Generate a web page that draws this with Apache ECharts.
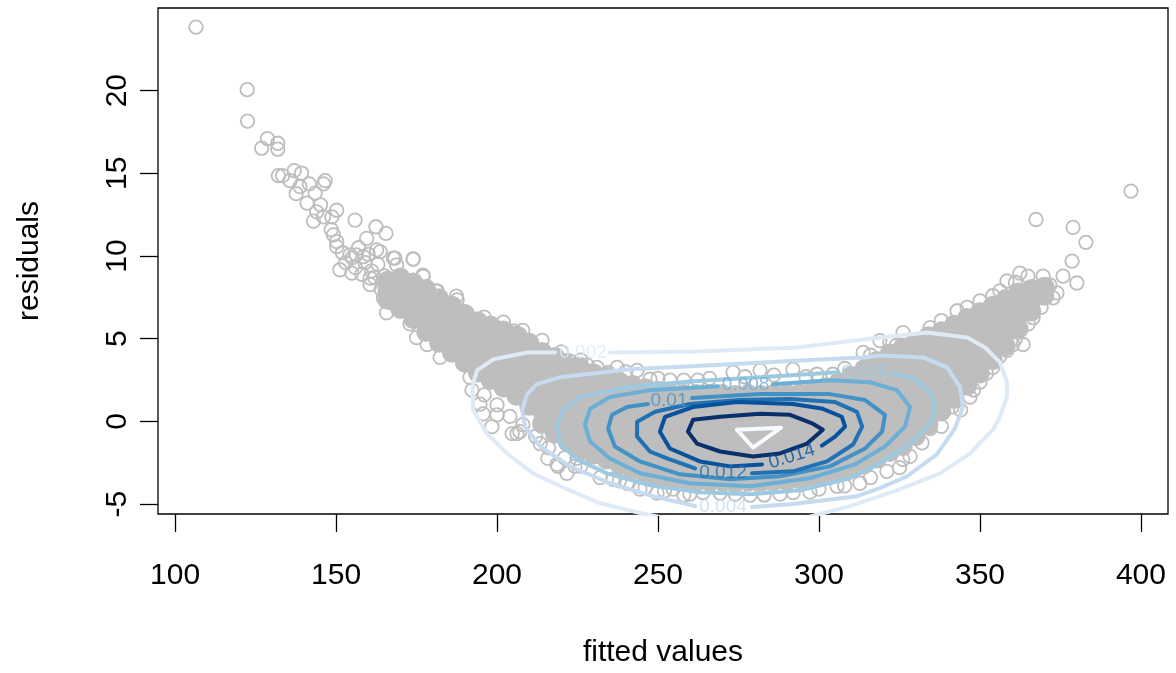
<!DOCTYPE html>
<html><head><meta charset="utf-8">
<script src="https://cdn.jsdelivr.net/npm/echarts@6.0.0/dist/echarts.min.js"></script>
<style>html,body{margin:0;padding:0;background:#fff}#chart{width:1176px;height:673px}</style>
</head><body><div id="chart"></div>
<script>
const xTicks = [100, 150, 200, 250, 300, 350, 400];
const yTicks = [-5, 0, 5, 10, 15, 20];
const levels = ['0.002', '0.004', '0.006', '0.008', '0.01', '0.012', '0.014', '0.016', '0.018'];
const levelColors = ['#DEEBF7', '#C6DBEF', '#9ECAE1', '#6BAED6', '#4292C6', '#2171B5', '#08519C', '#08306B', '#F7FBFF'];

// dense core of the point cloud: [fitted, [residuals...]]
const coreColumns = [
  [166, [8.5, 7.9, 7.35]],
  [170, [8.7, 8.0, 7.4, 6.8]],
  [174, [8.4, 7.7, 7.0, 6.2]],
  [178, [8.0, 7.3, 6.6, 6.0, 5.4]],
  [182, [7.45, 6.8, 6.1, 5.4, 4.75]],
  [186, [7.0, 6.3, 5.6, 4.9, 4.15]],
  [190, [6.5, 5.8, 5.1, 4.3, 3.55]],
  [194, [6.05, 5.35, 4.6, 3.9, 3.2, 2.95]],
  [198, [5.8, 5.1, 4.4, 3.7, 3.0, 2.5]],
  [202, [5.5, 4.8, 4.1, 3.4, 2.7, 2.05]],
  [206, [5.2, 4.5, 3.8, 3.1, 2.3, 1.55]],
  [210, [4.75, 4.1, 3.4, 2.6, 1.8, 0.95]],
  [214, [4.2, 3.5, 2.8, 2.1, 1.4, 0.6, -0.15]],
  [218, [3.9, 3.2, 2.5, 1.8, 1.1, 0.4, -0.3, -0.75]],
  [222, [3.55, 2.8, 2.1, 1.4, 0.7, 0.0, -0.6, -1.25]],
  [226, [3.2, 2.5, 1.8, 1.1, 0.4, -0.3, -1.0, -1.7]],
  [230, [2.9, 2.2, 1.5, 0.8, 0.1, -0.6, -1.3, -2.0]],
  [234, [2.7, 2.0, 1.3, 0.6, -0.1, -0.8, -1.5, -2.3]],
  [238, [2.4, 1.7, 1.0, 0.3, -0.4, -1.1, -1.9, -2.6]],
  [242, [2.2, 1.5, 0.8, 0.1, -0.6, -1.3, -2.0, -2.6, -2.9]],
  [246, [2.0, 1.3, 0.6, -0.1, -0.8, -1.5, -2.2, -2.9, -3.15]],
  [250, [1.85, 1.2, 0.5, -0.2, -0.9, -1.6, -2.3, -3.0, -3.35]],
  [254, [1.7, 1.0, 0.3, -0.4, -1.1, -1.8, -2.5, -3.1, -3.5]],
  [258, [1.65, 1.0, 0.3, -0.4, -1.1, -1.8, -2.5, -3.1, -3.6]],
  [262, [1.65, 0.95, 0.25, -0.45, -1.15, -1.85, -2.55, -3.2, -3.65]],
  [266, [1.6, 0.9, 0.2, -0.5, -1.2, -1.9, -2.6, -3.25, -3.65]],
  [270, [1.65, 0.95, 0.3, -0.4, -1.1, -1.8, -2.5, -3.2, -3.65]],
  [274, [1.6, 0.9, 0.2, -0.5, -1.2, -1.9, -2.6, -3.3, -3.7]],
  [278, [1.65, 1.0, 0.3, -0.4, -1.1, -1.8, -2.5, -3.2, -3.65]],
  [282, [1.6, 0.9, 0.2, -0.5, -1.2, -1.9, -2.6, -3.25, -3.65]],
  [286, [1.65, 0.95, 0.25, -0.45, -1.15, -1.85, -2.55, -3.2, -3.6]],
  [290, [1.65, 1.0, 0.3, -0.4, -1.1, -1.8, -2.5, -3.15, -3.6]],
  [294, [1.7, 1.0, 0.3, -0.4, -1.1, -1.8, -2.5, -3.1, -3.5]],
  [298, [1.85, 1.15, 0.45, -0.25, -0.95, -1.65, -2.35, -3.0, -3.35]],
  [302, [2.05, 1.35, 0.65, -0.05, -0.75, -1.45, -2.15, -2.8, -3.2]],
  [306, [2.35, 1.65, 0.95, 0.25, -0.45, -1.15, -1.85, -2.5, -3.0]],
  [310, [2.75, 2.05, 1.35, 0.65, -0.05, -0.75, -1.45, -2.15, -2.8]],
  [314, [3.15, 2.45, 1.75, 1.05, 0.35, -0.35, -1.05, -1.75, -2.6]],
  [318, [3.65, 2.95, 2.25, 1.55, 0.85, 0.15, -0.55, -1.25, -1.95, -2.25]],
  [322, [4.1, 3.4, 2.7, 2.0, 1.3, 0.6, -0.1, -0.8, -1.5, -1.85]],
  [326, [4.45, 3.75, 3.05, 2.35, 1.65, 0.95, 0.25, -0.45, -1.15, -1.5]],
  [330, [4.8, 4.1, 3.4, 2.7, 2.0, 1.3, 0.6, -0.1, -0.9]],
  [334, [5.15, 4.45, 3.75, 3.05, 2.35, 1.65, 0.95, 0.3, -0.2]],
  [338, [5.45, 4.75, 4.05, 3.35, 2.65, 1.95, 1.25, 0.6]],
  [342, [5.85, 5.15, 4.45, 3.75, 3.05, 2.35, 1.65, 1.35]],
  [346, [6.25, 5.55, 4.85, 4.15, 3.45, 2.75, 2.15]],
  [350, [6.6, 5.9, 5.2, 4.5, 3.75, 2.9]],
  [354, [7.0, 6.3, 5.6, 4.9, 4.2, 3.7]],
  [358, [7.4, 6.7, 6.0, 5.3, 4.55]],
  [362, [7.8, 7.1, 6.4, 5.6]],
  [366, [8.0, 7.3, 6.65]],
  [370, [8.15, 7.6]]
];

// individually visible points: [fitted, residual]
const tailPoints = [
  [106.5,23.84],[122.4,20.06],[122.5,18.16],[128.7,17.10],[131.9,16.82],[126.9,16.52],[131.9,16.46],
  [132.1,14.86],[133.4,14.86],[137.0,15.16],[139.3,15.02],[135.7,14.56],[137.6,13.77],[141.7,14.36],
  [143.5,13.81],[146.6,14.56],[146.1,14.36],[144.0,12.67],[146.1,12.37],[148.7,12.37],[150.2,12.77],
  [143.0,12.11],[149.2,11.28],[155.9,12.17],[162.4,11.77],[165.5,11.37],[150.2,10.57],[154.3,10.07],
  [151.2,9.17],[154.9,8.97],[159.5,11.07],[158.5,9.97],[163.7,10.27],[167.8,9.87],[174.0,9.82],
  [168.8,9.47],[160.6,8.27],[164.7,8.47],[177.1,8.77],[181.2,7.87],[187.4,7.57],
  [150.2,10.87],[156.3,10.07],[162.6,10.37],[160.6,8.67],[175.0,8.27],[164.7,7.47],[165.7,6.57],
  [169.9,6.97],[173.0,5.90],[175.0,5.07],[178.3,4.65],[182.3,3.87],[190.6,6.07],[193.7,5.87],
  [199.9,5.67],[205.1,5.47],[209.2,4.67],[152,10.2],[153,9.6],[155,9.9],[156,9.3],[157,10.5],
  [158,8.9],[159,9.6],[160,10.1],[161,9.1],[162,8.7],[163,9.5],[164,8.0],[165,8.8],[166,7.6],
  [167,8.3],[168,7.1],[169,8.6],[171,7.9],[172,6.9],[173,8.4],[175,7.5],[176,6.3],[177,7.8],
  [179,6.8],[180,5.6],[183,6.6],[185,5.0],[186,6.2],[188,4.6],[189,5.8],[148.5,11.6],[145.2,13.1],
  [141.0,13.2],[138.8,14.2]
];
const upperEdgePoints = [
  [168.3,9.87],[173.9,9.81],[177.0,8.85],[181.4,7.89],[187.6,7.35],[203.1,5.49],[207.1,5.25],
  [213.4,4.29],[218.6,3.69],[225.8,3.45],[231.1,3.27],[237.3,3.27],[243.5,3.09],[247.5,2.55],
  [253.7,2.49],[262.4,2.49],[273.3,2.97],[281.7,3.09],[291.9,3.15],[299.4,2.85],[304.3,2.85],
  [313.7,4.17],[322.0,4.77],[326.1,5.37],[334.5,5.67],[342.9,6.69],[350.0,7.29],[356.2,7.89],
  [358.4,8.49],[362.4,8.97],[364.9,8.79],[369.6,8.79],[371.7,8.25],[373.9,7.77],[375.8,8.79],
  [234.5,2.97],[318.9,4.89],[228,3.4],[240,3.0],[250,2.6],[258,2.5],[266,2.6],[277,2.7],[286,2.8],
  [296,2.7],[308,3.2],[316,4.0],[324,4.6],[338,6.1],[346,6.9],[354,7.6],[361,8.4],[196,6.3],
  [202,6.0],[208,5.5],[214,4.9],[220,4.2],[226,3.7]
];
const rightPoints = [
  [367.4,12.21],[378.9,11.73],[382.9,10.83],[378.6,9.69],[380.1,8.37],[396.9,13.93]
];
const lowerEdgePoints = [
  [191.6,2.67],[195.7,0.46],[198.4,-0.32],[200.0,0.40],[206.2,-0.74],[215.8,-2.24],[218.9,-2.72],
  [221.7,-3.14],[224.2,-2.72],[236.0,-3.50],[240.4,-3.74],[244.4,-4.10],[249.7,-4.34],[254.7,-4.10],
  [259.9,-4.40],[269.3,-4.34],[278.6,-4.46],[287.9,-4.40],[297.2,-4.28],[305.6,-3.92],[312.7,-3.74],
  [321.1,-3.02],[321.1,-1.82],[328.3,-2.12],[334.5,-0.44],[334.5,0.28],[341.3,0.88],[346.9,1.47],
  [350.0,2.37],[354.0,3.27],[358.4,4.29],[360.2,4.65],[363.4,4.65],[366.5,6.27],[372.7,7.47],
  [194.7,1.05],[192.2,1.89],[204.7,-0.74],[207.1,-0.62],[213.4,-1.34],[218.6,-2.60],[224.8,-2.24],
  [232,-3.4],[238,-3.6],[246,-4.0],[252,-4.2],[258,-4.45],[264,-4.3],[274,-4.4],[283,-4.45],
  [292,-4.3],[300,-4.1],[308,-3.9],[316,-3.4],[325,-2.8],[326,-2.3],[332,-1.3],[338,-0.3],[344,0.7],
  [348,1.9],[352,2.9],[356,3.9],[361,5.0],[365,5.9],[369,6.9],[196,1.6],[200,1.0],[204,0.3],
  [208,-0.2],[212,-0.9],[216,-1.6],[221,-2.2],[226,-2.7]
];

// density contour paths (fitted, residual); open where the level label sits
const contour002 = [[235.1,4.17],[262.1,4.23],[293.2,4.47],[313.7,4.95],[333.5,5.37],[346.0,5.07],[351.6,4.47],[356.2,3.57],[358.4,2.37],[358.4,1.47],[356.2,0.28],[354.0,-0.50],[346.9,-1.94],[337.6,-3.14],[325.2,-4.10],[318.9,-4.52],[309.6,-5.12],[300.3,-5.60],[291.0,-6.08],[278.6,-6.38],[263.0,-6.20],[253.7,-5.90],[244.4,-5.54],[232.0,-4.94],[221.7,-4.10],[211.2,-3.14],[203.1,-1.94],[196.9,-0.74],[192.5,0.70],[192.5,2.25],[193.8,3.09],[198.8,3.75],[209.3,4.17],[218.0,4.17]];
const contour004 = [[279.2,-5.18],[291.9,-5.00],[311.8,-4.52],[318.9,-4.04],[327.3,-3.32],[336.6,-2.00],[342.2,-0.44],[344.7,0.87],[343.8,2.07],[339.8,3.27],[332.3,3.87],[318.9,3.99],[313.7,3.87],[294.1,3.69],[272.4,3.45],[241.3,3.15],[219.6,2.67],[212.4,2.25],[209.3,1.65],[207.8,0.70],[208.7,-0.32],[213.4,-1.52],[222.7,-2.72],[235.1,-3.74],[248.4,-4.52],[261.5,-5.12]];
const contour006 = [[323.0,2.91],[329.8,2.55],[334.5,1.77],[336.0,0.87],[334.5,-0.14],[328.3,-1.34],[318.9,-2.54],[309.6,-3.44],[294.1,-4.16],[278.6,-4.40],[263.0,-4.28],[247.5,-3.86],[234.2,-3.14],[224.8,-2.30],[219.6,-1.34],[218.6,-0.32],[220.5,0.70],[225.8,1.47],[240.4,2.07],[260.9,2.43],[281.7,2.67],[305.9,2.97]];
const contour008 = [[285.7,2.25],[303.4,2.49],[315.8,2.37],[324.2,1.89],[328.3,0.87],[326.7,-0.32],[320.5,-1.52],[311.2,-2.60],[297.2,-3.44],[278.6,-3.92],[259.9,-3.74],[244.4,-3.14],[235.1,-2.24],[228.9,-1.22],[227.3,-0.20],[228.9,0.76],[235.1,1.47],[247.5,1.89],[268.6,2.13]];
const contour010 = [[260.6,1.41],[281.7,1.65],[303.4,1.65],[314.3,1.29],[320.5,0.40],[319.6,-0.62],[314.3,-1.64],[303.4,-2.72],[287.9,-3.32],[272.4,-3.50],[256.8,-3.20],[244.4,-2.42],[236.6,-1.52],[234.5,-0.44],[235.7,0.40],[240.4,0.87],[246.9,1.05]];
const contour012 = [[279.2,-3.14],[291.9,-3.02],[302.5,-2.42],[310.6,-1.40],[313.4,-0.32],[311.8,0.58],[305.0,1.17],[291.0,1.35],[275.5,1.29],[259.9,1.05],[249.1,0.58],[243.5,-0.02],[243.5,-0.92],[247.5,-1.82],[252.8,-2.24],[261.5,-2.84]];
const contour014 = [[300.9,-1.46],[305.0,-0.92],[308.1,-0.32],[307.1,0.28],[301.2,0.76],[291.9,1.05],[274.5,1.17],[260.9,0.87],[252.2,0.28],[250.6,-0.62],[253.7,-1.64],[263.0,-2.42],[272.4,-2.72],[282.3,-2.60]];
const contour016 = [[259.3,-0.62],[260.9,0.10],[269.3,0.28],[281.7,0.46],[291.0,0.40],[298.1,-0.14],[301.2,-0.50],[296.3,-1.34],[287.9,-1.94],[279.5,-2.12],[269.3,-1.82],[262.1,-1.34],[259.3,-0.62]];
const contour018 = [[274.5,-0.50],[288.2,-0.38],[279.5,-1.58],[274.5,-0.50]];

// contour labels: [fitted, residual, level, angle]
const contourLabels = [
  [226.7, 4.17, '0.002', 0],
  [270.2, -5.18, '0.004', 0],
  [314.3, 2.97, '0.006', 0],
  [277.2, 2.19, '0.008', 0],
  [253.4, 1.23, '0.01', 0],
  [270.2, -3.08, '0.012', 0],
  [291.6, -2.12, '0.014', 17]
];

const FONT = '"Liberation Sans", Arial, Helvetica, sans-serif';
const coreData = [];
coreColumns.forEach(c => c[1].forEach(v => coreData.push([c[0], v])));
const ringData = tailPoints.concat(upperEdgePoints, rightPoints, lowerEdgePoints);
const contours = [contour002, contour004, contour006, contour008, contour010, contour012, contour014, contour016, contour018];

const series = [
  { type: 'scatter', data: coreData, symbol: 'circle', symbolSize: 20, silent: true, z: 1,
    itemStyle: { color: '#BEBEBE', opacity: 1 } },
  { type: 'scatter', data: ringData, symbol: 'circle', symbolSize: 13.5, silent: true, z: 2,
    itemStyle: { color: 'rgba(255,255,255,0)', borderColor: '#BEBEBE', borderWidth: 1.8, opacity: 1 } }
];
contours.forEach((c, i) => series.push({
  type: 'line', data: c, showSymbol: false, symbol: 'none', silent: true, z: 3, clip: true,
  lineStyle: { color: levelColors[i], width: 4, join: 'round', cap: 'round' }
}));
series.push({
  type: 'scatter', symbolSize: 1, silent: true, z: 4,
  itemStyle: { color: 'rgba(0,0,0,0)' },
  data: contourLabels.map(l => ({
    value: [l[0], l[1]],
    label: { show: true, formatter: l[2], rotate: l[3], position: 'inside',
      color: levelColors[levels.indexOf(l[2])], fontSize: 19, fontFamily: FONT }
  }))
});

const chart = echarts.init(document.getElementById('chart'), null, { renderer: 'canvas' });
chart.setOption({
  animation: false,
  backgroundColor: '#ffffff',
  grid: { left: 158, right: 8, top: 8, bottom: 155, show: true, borderColor: '#000', borderWidth: 1.3, backgroundColor: 'rgba(0,0,0,0)' },
  xAxis: {
    type: 'value', min: 94.7, max: 408.4,
    axisLine: { show: false, onZero: false }, splitLine: { show: false },
    axisTick: { show: true, length: 18, customValues: xTicks, lineStyle: { color: '#000', width: 1.3 } },
    axisLabel: { customValues: xTicks, margin: 47, fontSize: 30, color: '#000', fontFamily: FONT },
    name: 'fitted values', nameLocation: 'middle', nameGap: 124,
    nameTextStyle: { fontSize: 30, color: '#000', fontFamily: FONT }
  },
  yAxis: {
    type: 'value', min: -5.6, max: 25,
    axisLine: { show: false, onZero: false }, splitLine: { show: false },
    axisTick: { show: true, length: 18, customValues: yTicks, lineStyle: { color: '#000', width: 1.3 } },
    axisLabel: { customValues: yTicks, rotate: 90, margin: 25, fontSize: 30, color: '#000', fontFamily: FONT },
    name: 'residuals', nameLocation: 'middle', nameGap: 113, nameRotate: 90,
    nameTextStyle: { fontSize: 30, color: '#000', fontFamily: FONT }
  },
  series: series
});
</script>
</body></html>
